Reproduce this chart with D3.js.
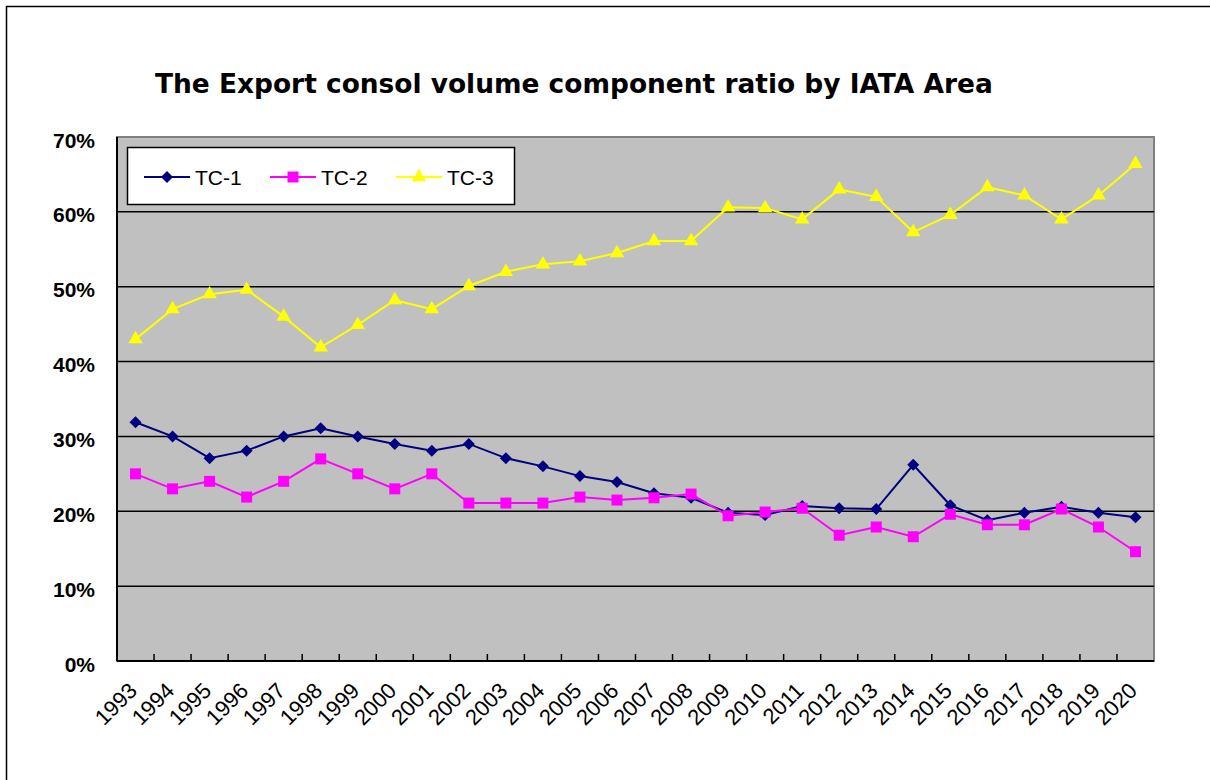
<!DOCTYPE html>
<html>
<head>
<meta charset="utf-8">
<script src="https://cdn.jsdelivr.net/npm/d3@7"></script>
<style>
  html, body { margin: 0; padding: 0; background: #fff; }
  svg { display: block; }
</style>
</head>
<body>
<div id="vis"></div>
<script>
const years = ["1993","1994","1995","1996","1997","1998","1999","2000","2001","2002","2003","2004","2005","2006",
  "2007","2008","2009","2010","2011","2012","2013","2014","2015","2016","2017","2018","2019","2020"]

const tc1 = [31.9,30.0,27.1,28.1,30.0,31.1,30.0,29.0,28.1,29.0,27.1,26.0,24.7,23.9,
  22.4,21.8,19.8,19.5,20.7,20.4,20.3,26.2,20.8,18.8,19.8,20.6,19.8,19.2]
const tc2 = [25.0,23.0,24.0,21.9,24.0,27.0,25.0,23.0,25.0,21.1,21.1,21.1,21.9,21.5,
  21.8,22.3,19.4,19.9,20.4,16.8,17.9,16.6,19.6,18.2,18.2,20.3,17.9,14.6]
const tc3 = [43.0,47.0,49.0,49.6,46.0,41.9,44.9,48.2,47.0,50.1,52.0,53.0,53.4,54.5,
  56.1,56.1,60.6,60.5,59.0,63.0,62.0,57.3,59.6,63.3,62.2,59.0,62.2,66.4]

const seriesNames = ["TC-1", "TC-2", "TC-3"]
const yTicks = [0, 10, 20, 30, 40, 50, 60, 70]
const titleText = "The Export consol volume component ratio by IATA Area"

const width = 1210, height = 780
const plot = { left: 117, top: 137, right: 1154, bottom: 661 }

// excel style rotated-square diamond
const excelDiamond = {
  draw(ctx, size) {
    const r = Math.sqrt(size / 2)
    ctx.moveTo(0, -r); ctx.lineTo(r, 0); ctx.lineTo(0, r); ctx.lineTo(-r, 0); ctx.closePath()
  }
}

const series = [
  { name: seriesNames[0], values: tc1, colour: "#000080", symbol: excelDiamond, size: 72 },
  { name: seriesNames[1], values: tc2, colour: "#FF00FF", symbol: d3.symbolSquare, size: 121 },
  { name: seriesNames[2], values: tc3, colour: "#FFFF00", symbol: d3.symbolTriangle, size: 90 }
]

const svg = d3.select("#vis").append("svg")
  .attr("width", width)
  .attr("height", height)
  .attr("font-family", "'Liberation Sans', Arial, sans-serif")

// outer chart border (runs off the page right/bottom)
svg.append("rect")
  .attr("x", 6.5).attr("y", 6.5)
  .attr("width", width + 20).attr("height", height + 20)
  .attr("fill", "#fff").attr("stroke", "#000").attr("stroke-width", 1.5)

const x = d3.scaleBand()
  .domain(years)
  .range([plot.left, plot.right])

const y = d3.scaleLinear()
  .domain([0, 70])
  .range([plot.bottom, plot.top])

// plot area
svg.append("rect")
  .attr("x", plot.left).attr("y", plot.top)
  .attr("width", plot.right - plot.left).attr("height", plot.bottom - plot.top)
  .attr("fill", "#C0C0C0").attr("stroke", "#808080").attr("stroke-width", 2)

// gridlines
svg.append("g")
  .selectAll("line")
  .data(yTicks.filter(d => d > 0 && d < 70))
  .join("line")
  .attr("x1", plot.left).attr("x2", plot.right)
  .attr("y1", d => y(d)).attr("y2", d => y(d))
  .attr("stroke", "#000").attr("stroke-width", 1.5)

// y axis labels
const yAxis = g => g
  .attr("transform", `translate(${plot.left},0)`)
  .call(d3.axisLeft(y).tickValues(yTicks).tickSize(0).tickPadding(22).tickFormat(d => d + "%"))
  .call(g => g.select(".domain").remove())
  .call(g => g.selectAll(".tick text")
    .attr("fill", "#000")
    .attr("font-size", 21)
    .attr("font-weight", "bold")
    .attr("dy", "0.48em")
    .attr("font-family", "'Liberation Sans', Arial, sans-serif"))

svg.append("g").call(yAxis)

// x axis: inward ticks at the band edges, rotated labels
const xAxis = g => g
  .attr("transform", `translate(0,${plot.bottom})`)
  .call(g => g.selectAll("line.tk")
    .data(years.slice(1))
    .join("line")
    .attr("class", "tk")
    .attr("x1", d => x(d)).attr("x2", d => x(d))
    .attr("y1", 0).attr("y2", -7)
    .attr("stroke", "#000").attr("stroke-width", 1.5))
  .call(g => g.selectAll("text")
    .data(years)
    .join("text")
    .attr("text-anchor", "end")
    .attr("font-size", 22)
    .attr("fill", "#000")
    .attr("transform", d => `translate(${x(d) + x.bandwidth() / 2 + 3},${31}) rotate(-45)`)
    .text(d => d))

svg.append("g").call(xAxis)

// axis lines
svg.append("line")
  .attr("x1", plot.left).attr("x2", plot.left)
  .attr("y1", plot.top).attr("y2", plot.bottom)
  .attr("stroke", "#000").attr("stroke-width", 2)
svg.append("line")
  .attr("x1", plot.left).attr("x2", plot.right)
  .attr("y1", plot.bottom).attr("y2", plot.bottom)
  .attr("stroke", "#000").attr("stroke-width", 2)

const cx = d => x(d) + x.bandwidth() / 2

const line = d3.line()
  .x((d, i) => cx(years[i]))
  .y(d => y(d))

series.forEach(s => {
  const g = svg.append("g")
  g.append("path")
    .attr("d", line(s.values))
    .attr("fill", "none")
    .attr("stroke", s.colour)
    .attr("stroke-width", 2)
  g.selectAll("path.mk")
    .data(s.values)
    .join("path")
    .attr("class", "mk")
    .attr("d", d3.symbol(s.symbol, s.size))
    .attr("transform", (d, i) => `translate(${cx(years[i])},${y(d)})`)
    .attr("fill", s.colour)
})

// legend
const legend = svg.append("g")
legend.append("rect")
  .attr("x", 127.5).attr("y", 147.5)
  .attr("width", 387).attr("height", 57)
  .attr("fill", "#fff").attr("stroke", "#000").attr("stroke-width", 1.5)

const legendX = d3.scalePoint().domain(seriesNames).range([144, 396])
series.forEach(s => {
  const lx = legendX(s.name)
  legend.append("line")
    .attr("x1", lx).attr("x2", lx + 46)
    .attr("y1", 177).attr("y2", 177)
    .attr("stroke", s.colour).attr("stroke-width", 2)
  legend.append("path")
    .attr("d", d3.symbol(s.symbol, s.size))
    .attr("transform", `translate(${lx + 23},177)`)
    .attr("fill", s.colour)
  legend.append("text")
    .attr("x", lx + 51).attr("y", 185)
    .attr("font-size", 21)
    .attr("fill", "#000")
    .text(s.name)
})

// title, sized to span the same width as the original
const title = svg.append("text")
  .attr("x", 155).attr("y", 93)
  .attr("font-family", "'DejaVu Sans', Verdana, sans-serif")
  .attr("font-weight", "bold")
  .attr("font-size", 24)
  .attr("fill", "#000")
  .text(titleText)
const tl = title.node().getComputedTextLength()
title.attr("font-size", 24 * 838 / tl)
</script>
</body>
</html>
